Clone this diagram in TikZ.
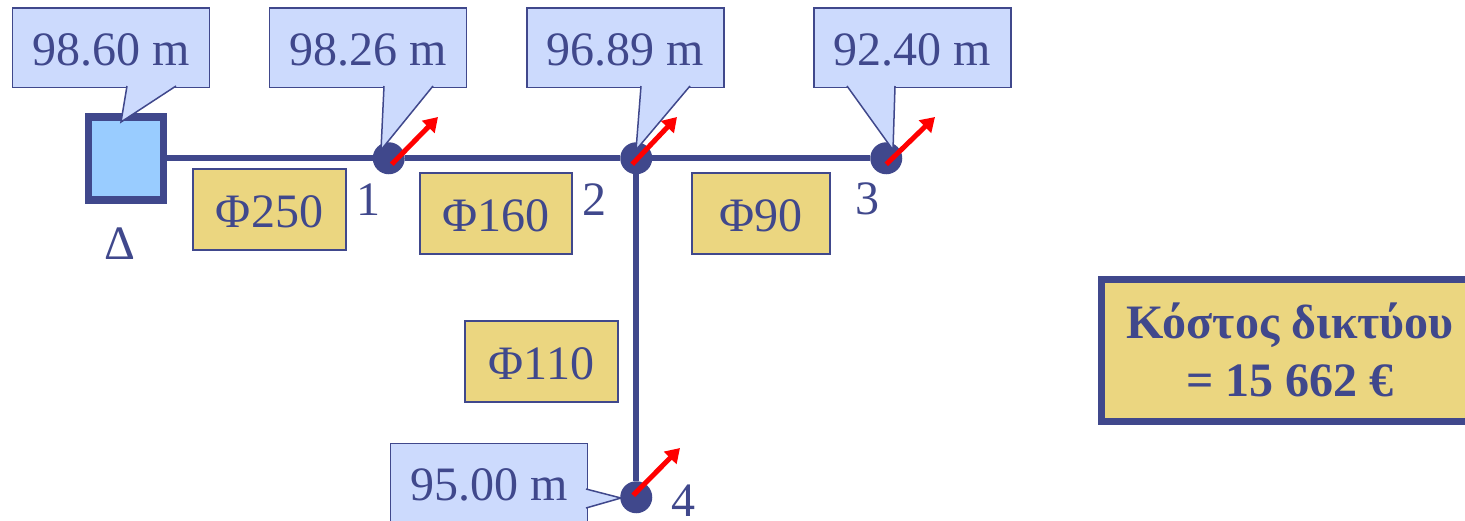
\documentclass[tikz,border=0pt]{standalone}
\usepackage{fontspec}
\setmainfont{Liberation Serif}
\usetikzlibrary{arrows.meta,positioning}
\definecolor{netblue}{RGB}{64,72,140}
\definecolor{callblue}{RGB}{204,218,253}
\definecolor{tankblue}{RGB}{153,204,255}
\definecolor{dngold}{RGB}{235,214,128}

\begin{document}
\begin{tikzpicture}[x=0.5pt,y=-0.5pt,
  txt/.style={text=netblue,font=\fontsize{24}{29}\selectfont,inner sep=0pt,outer sep=0pt},
  tank/.style={draw=netblue,line width=3.75pt,fill=tankblue,outer sep=0pt,inner sep=0pt,
    minimum width=37.5pt,minimum height=41.5pt},
  junc/.style={circle,fill=netblue,minimum size=16pt,inner sep=0pt,outer sep=0pt},
  headbox/.style={txt,draw=netblue,line width=0.75pt,fill=callblue,
    minimum width=98.5pt,minimum height=39.75pt,text height=17.5pt,text depth=0pt},
  headtip/.style={draw=netblue,line width=0.75pt,fill=callblue,line join=miter},
  dnbox/.style={txt,draw=netblue,line width=1pt,fill=dngold,
    minimum height=40.5pt,text height=17.5pt,text depth=0pt},
  numlbl/.style={txt,anchor=base},
  costbox/.style={txt,draw=netblue,line width=3.5pt,fill=dngold,align=center,font=\fontsize{24}{29}\selectfont\bfseries,
    minimum width=188.5pt,minimum height=71pt},
  pipe/.style={draw=netblue,line width=3pt},
  arr/.style={-{Triangle[length=7pt,width=8.5pt]},draw=red,line width=2.5pt},
  node distance=10pt]
\path[use as bounding box,clip] (0,0) rectangle (1465,520);

\node[tank] (tank) at (125.75,158.25) {};
\node[junc,right=104.75pt of tank] (j1) {};
\node[junc,right=107.75pt of j1] (j2) {};
\node[junc,right=109pt of j2] (j3) {};
\node[junc,below=153.5pt of j2] (j4) {};

\draw[pipe] (tank)--(j1);
\draw[pipe] (j1)--(j2);
\draw[pipe] (j2)--(j3);
\draw[pipe] (j2)--(j4);

\node[headbox] (h0) at (111,47.5) {98.60 m};
\node[headbox] (h1) at (368,47.5) {98.26 m};
\node[headbox] (h2) at (625.5,47.5) {96.89 m};
\node[headbox] (h3) at (912.5,47.5) {92.40 m};
\node[headbox] (h4) at (489,483) {95.00 m};

\coordinate (t0) at (121,122);
\coordinate (t1) at (381,150);
\coordinate (t2) at (636,150);
\coordinate (t3) at (893,150);
\coordinate (t4) at (621,498);
\draw[headtip] (127,86)--(t0)--(176,86);
\draw[headtip] (384,86)--(t1)--(433,86);
\draw[headtip] (641,86)--(t2)--(690,86);
\draw[headtip] (847,86)--(t3)--(895,86);
\draw[headtip] (586,489)--(t4)--(586,508);

\node[dnbox,minimum width=76.5pt] (d1) at (269.5,209.5) {Φ250};
\node[dnbox,minimum width=76pt] (d2) at (496,213.5) {Φ160};
\node[dnbox,minimum width=69pt] (d3) at (761,213.5) {Φ90};
\node[dnbox,minimum width=76.5pt] (d4) at (541.5,361.5) {Φ110};

\node[numlbl] (n0) at (120,259) {Δ};
\node[numlbl] (n1) at (368,215) {1};
\node[numlbl] (n2) at (594,215) {2};
\node[numlbl] (n3) at (867,214) {3};
\node[numlbl] (n4) at (683,516) {4};

\coordinate (q1) at (438,117);
\coordinate (q2) at (677,117);
\coordinate (q3) at (935,117);
\coordinate (q4) at (680,448);
\draw[arr] ([shift={(3,6)}]j1.center)--(q1);
\draw[arr] ([shift={(-4,6)}]j2.center)--(q2);
\draw[arr] ([shift={(0,6)}]j3.center)--(q3);
\draw[arr] ([shift={(-3,-2)}]j4.center)--(q4);

\node[costbox] (cost) at (1290,350) {Κόστος δικτύου\\= 15 662 €};
\end{tikzpicture}
\end{document}
